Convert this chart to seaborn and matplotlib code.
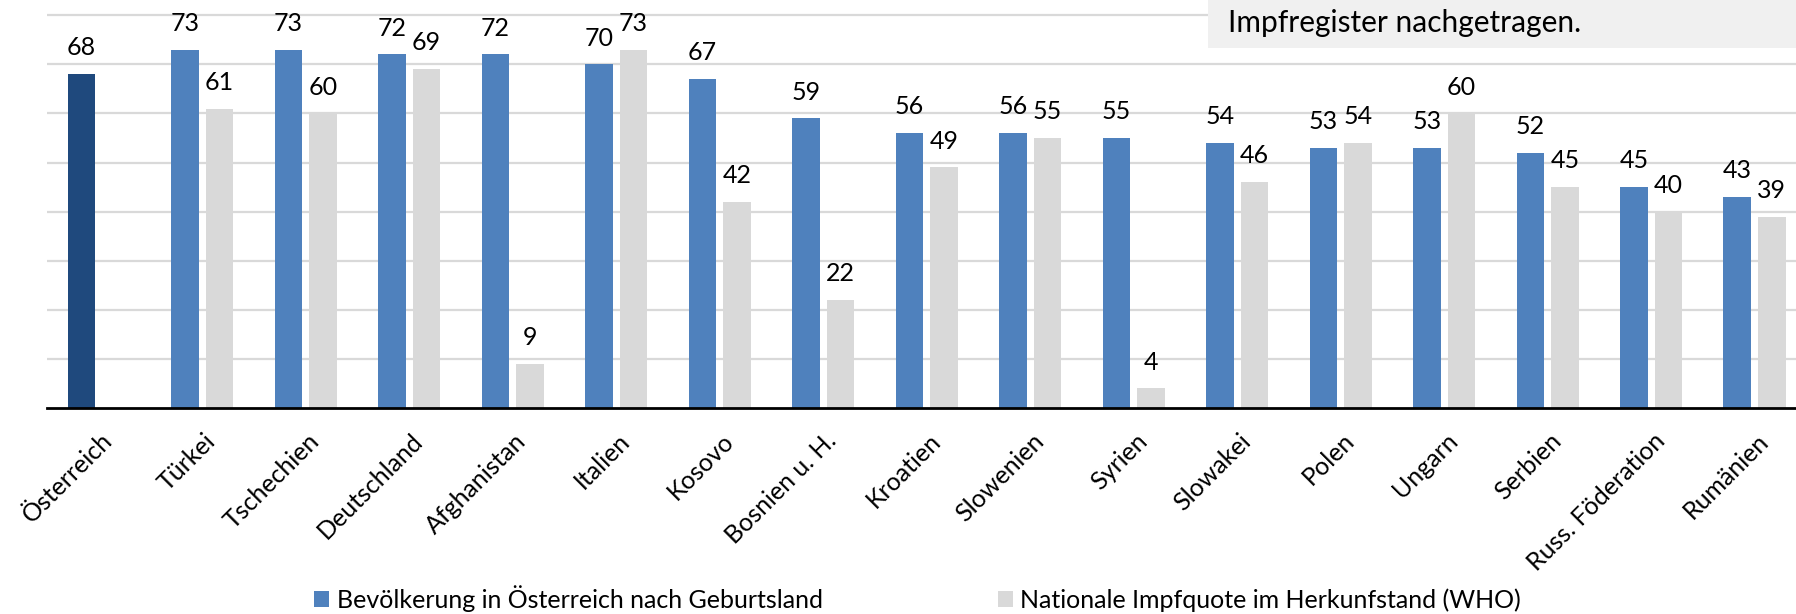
import numpy as np
import pandas as pd
import matplotlib
matplotlib.use('Agg')
from matplotlib import pyplot as plt
from matplotlib.patches import Rectangle
from matplotlib.transforms import ScaledTranslation
import seaborn as sns

laender = ["Österreich", "Türkei", "Tschechien", "Deutschland", "Afghanistan", "Italien",
           "Kosovo", "Bosnien u. H.", "Kroatien", "Slowenien", "Syrien", "Slowakei",
           "Polen", "Ungarn", "Serbien", "Russ. Föderation", "Rumänien"]
bevoelkerung = [68, 73, 73, 72, 72, 70, 67, 59, 56, 56, 55, 54, 53, 53, 52, 45, 43]
who_quote = [np.nan, 61, 60, 69, 9, 73, 42, 22, 49, 55, 4, 46, 54, 60, 45, 40, 39]
serien = ["Bevölkerung in Österreich nach Geburtsland", "Nationale Impfquote im Herkunfstand (WHO)"]

df = pd.concat([
    pd.DataFrame({"Land": laender, "Wert": bevoelkerung, "Serie": serien[0]}),
    pd.DataFrame({"Land": laender, "Wert": who_quote, "Serie": serien[1]}),
], ignore_index=True)

sns.set_theme(style="white")
plt.rcParams['font.family'] = ['Lato', 'DejaVu Sans']
plt.rcParams['text.color'] = 'black'
plt.rcParams['xtick.color'] = 'black'

fig = plt.figure(figsize=(17.96, 6.14), dpi=100)
ax = fig.add_axes([0.0262, 0.3355, 0.9738, 0.6645])

blau = "#4f81bd"
grau = "#d9d9d9"
sns.barplot(data=df, x="Land", y="Wert", hue="Serie", palette=[blau, grau],
            width=0.668, gap=0.2, ax=ax, saturation=1, linewidth=0)

# Österreich dunkler
ax.containers[0][0].set_facecolor("#1f497d")

for cont in ax.containers:
    for bar in cont:
        h = bar.get_height()
        if np.isnan(h):
            continue
        ax.annotate(f"{h:.0f}", (bar.get_x() + bar.get_width() / 2, h),
                    xytext=(0, 13.5), textcoords="offset points",
                    ha="center", va="baseline", fontsize=18, color="black")

ax.set_xlim(-0.5, 16.4)
ax.set_ylim(0, 83.1)
ax.set_yticks(range(10, 90, 10))
ax.set_yticklabels([])
ax.yaxis.grid(True, color="#d9d9d9", lw=1.6)
ax.set_axisbelow(True)
for s in ["left", "right", "top"]:
    ax.spines[s].set_visible(False)
ax.spines["bottom"].set_color("black")
ax.spines["bottom"].set_linewidth(2)
ax.set_xlabel("")
ax.set_ylabel("")
ax.tick_params(axis="x", length=0, pad=21, labelcolor="black")
ax.tick_params(axis="y", length=0)
verschiebung = ScaledTranslation(7 / 72, 0, fig.dpi_scale_trans)
for lbl in ax.get_xticklabels():
    lbl.set_rotation(45)
    lbl.set_ha("right")
    lbl.set_va("center")
    lbl.set_rotation_mode("anchor")
    lbl.set_fontsize(18)
    lbl.set_transform(lbl.get_transform() + verschiebung)

sns.move_legend(ax, "center", bbox_to_anchor=(0.511, 0.025), bbox_transform=fig.transFigure,
                ncol=2, frameon=False, title=None, fontsize=18, columnspacing=7,
                handlelength=0.6, handleheight=0.6, handletextpad=0.3)
for t in ax.get_legend().get_texts():
    t.set_color("black")

# abgeschnittene Notiz oben rechts
fig.add_artist(Rectangle((1208 / 1796, 1 - 48 / 614), 1 - 1208 / 1796, 48 / 614,
                         transform=fig.transFigure, facecolor="#f0f0f0",
                         edgecolor="none", zorder=5))
fig.text(1228 / 1796, 1 - 23 / 614, "Impfregister nachgetragen.", fontsize=21.5,
         va="center", ha="left", zorder=6)

fig.savefig("out.png", dpi=100)
